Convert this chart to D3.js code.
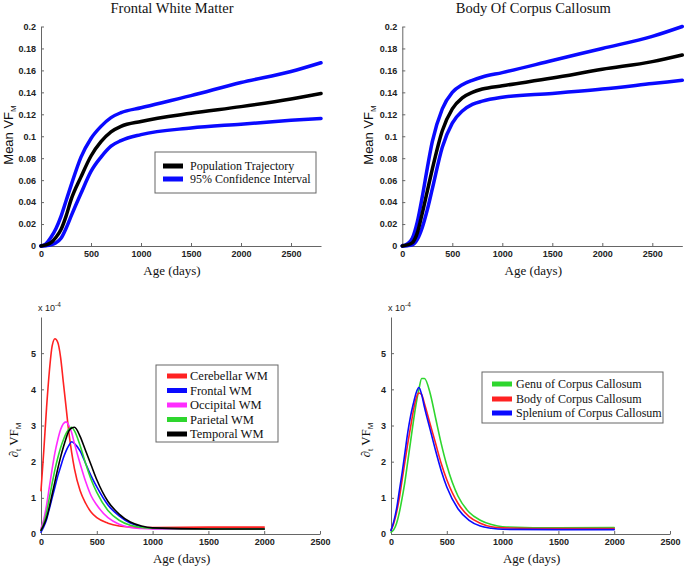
<!DOCTYPE html>
<html><head><meta charset="utf-8">
<script src="https://cdn.jsdelivr.net/npm/d3@7"></script>
<style>body{margin:0;background:#fff}svg{display:block}</style>
</head><body>
<svg id="c" width="685" height="569"></svg>
<script>
// ---------- DATA ----------
// Top panels: Mean VF_M trajectories (x = age in days)
const topAges = [0, 50, 100, 150, 200, 250, 300, 400, 500, 600, 700, 800, 1000, 1500, 2000, 2500, 2800];
const frontalMean  = [0, 0.001, 0.003, 0.008, 0.015, 0.027, 0.042, 0.063, 0.082, 0.095, 0.104, 0.109, 0.1135, 0.121, 0.127, 0.134, 0.139];
const frontalUpper = [0, 0.002, 0.008, 0.016, 0.027, 0.041, 0.055, 0.081, 0.098, 0.109, 0.117, 0.1215, 0.126, 0.137, 0.149, 0.159, 0.167];
const frontalLower = [0, 0.0003, 0.001, 0.003, 0.007, 0.016, 0.027, 0.048, 0.068, 0.081, 0.091, 0.096, 0.1015, 0.1075, 0.111, 0.1145, 0.1162];
const bodyMean  = [0, 0.001, 0.003, 0.012, 0.03, 0.05, 0.07, 0.105, 0.125, 0.135, 0.140, 0.143, 0.146, 0.153, 0.161, 0.168, 0.174];
const bodyUpper = [0, 0.002, 0.007, 0.022, 0.045, 0.071, 0.095, 0.125, 0.14, 0.147, 0.151, 0.154, 0.158, 0.169, 0.18, 0.191, 0.2];
const bodyLower = [0, 0.0003, 0.001, 0.006, 0.017, 0.033, 0.052, 0.09, 0.112, 0.123, 0.129, 0.132, 0.1355, 0.139, 0.143, 0.148, 0.151];

// Bottom panels: rate of change (x10^-4)
const rateAges = [0, 25, 50, 75, 100, 125, 150, 175, 200, 225, 250, 275, 300, 350, 400, 450, 500, 600, 700, 800, 900, 1000, 1500, 2000];
const cerebellarWM = [1.2, 2.3, 3.5, 4.5, 5.2, 5.4, 5.3, 4.9, 4.2, 3.5, 2.8, 2.25, 1.8, 1.2, 0.85, 0.6, 0.45, 0.3, 0.22, 0.19, 0.18, 0.18, 0.19, 0.19];
const frontalWM    = [0.05, 0.2, 0.4, 0.7, 1.0, 1.3, 1.6, 1.85, 2.1, 2.3, 2.45, 2.55, 2.5, 2.3, 1.95, 1.6, 1.3, 0.8, 0.5, 0.3, 0.2, 0.15, 0.13, 0.13];
const occipitalWM  = [0.15, 0.4, 0.8, 1.3, 1.8, 2.25, 2.6, 2.88, 3.05, 3.1, 3.0, 2.8, 2.5, 1.95, 1.45, 1.05, 0.8, 0.45, 0.27, 0.18, 0.15, 0.14, 0.14, 0.14];
const parietalWM   = [0.1, 0.3, 0.6, 1.0, 1.4, 1.78, 2.1, 2.38, 2.6, 2.78, 2.9, 2.95, 2.85, 2.45, 1.95, 1.5, 1.15, 0.65, 0.38, 0.24, 0.18, 0.16, 0.14, 0.14];
const temporalWM   = [0.1, 0.25, 0.45, 0.75, 1.1, 1.45, 1.8, 2.12, 2.4, 2.65, 2.85, 2.93, 2.95, 2.7, 2.3, 1.9, 1.5, 0.9, 0.55, 0.33, 0.22, 0.17, 0.14, 0.14];
const genuCC     = [0.05, 0.12, 0.3, 0.6, 1.0, 1.45, 2.0, 2.55, 3.1, 3.6, 4.0, 4.3, 4.3, 3.9, 3.2, 2.5, 1.9, 1.05, 0.6, 0.38, 0.26, 0.2, 0.17, 0.18];
const bodyCC     = [0.1, 0.3, 0.6, 1.0, 1.5, 2.0, 2.5, 2.95, 3.4, 3.75, 3.9, 3.85, 3.6, 3.05, 2.5, 1.95, 1.5, 0.85, 0.48, 0.3, 0.2, 0.17, 0.15, 0.15];
const spleniumCC = [0.1, 0.35, 0.7, 1.2, 1.7, 2.25, 2.8, 3.25, 3.6, 3.9, 4.05, 3.85, 3.5, 2.9, 2.3, 1.75, 1.3, 0.7, 0.38, 0.22, 0.16, 0.13, 0.12, 0.12];

const topTitles = ["Frontal White Matter", "Body Of Corpus Callosum"];
const topLegend = ["Population Trajectory", "95% Confidence Interval"];
const wmLegend = ["Cerebellar WM", "Frontal WM", "Occipital WM", "Parietal WM", "Temporal WM"];
const ccLegend = ["Genu of Corpus Callosum", "Body of Corpus Callosum", "Splenium of Corpus Callosum"];
const topXTicks = [0, 500, 1000, 1500, 2000, 2500];
const topYTicks = [0, 0.02, 0.04, 0.06, 0.08, 0.1, 0.12, 0.14, 0.16, 0.18, 0.2];
const botXTicks = [0, 500, 1000, 1500, 2000, 2500];
const botYTicks = [0, 1, 2, 3, 4, 5];

// ---------- DRAW ----------
const svg = d3.select("#c");
const BLUE = "#0a0aff", BLACK = "#000", RED = "#ff2222", MAG = "#ff2cff", GREEN = "#2ed62e";
const serif = "'Liberation Serif','Times New Roman',serif";
const sans = "'Liberation Sans',Arial,sans-serif";

function axes(g, x, y, xt, yt, yfmt) {
  const ax = g.append("g").attr("transform", `translate(0,${y.range()[0]})`)
    .call(d3.axisBottom(x).tickValues(xt).tickSizeInner(-3).tickSizeOuter(0).tickPadding(5).tickFormat(d3.format("d")));
  const ay = g.append("g").attr("transform", `translate(${x.range()[0]},0)`)
    .call(d3.axisLeft(y).tickValues(yt).tickSizeInner(-3).tickSizeOuter(0).tickPadding(5).tickFormat(yfmt));
  [ax, ay].forEach(a => {
    a.select(".domain").attr("stroke", "#666");
    a.selectAll(".tick line").attr("stroke", "#666");
    a.selectAll("text").attr("fill", "#222").style("font-family", sans).style("font-size", "9px").style("font-weight", "bold");
  });
}

function line(g, x, y, xs, ys, color, w) {
  const gen = d3.line().x((d, i) => x(xs[i])).y(d => y(d)).curve(d3.curveMonotoneX);
  g.append("path").attr("d", gen(ys)).attr("fill", "none").attr("stroke", color)
    .attr("stroke-width", w).attr("stroke-linejoin", "round").attr("stroke-linecap", "round");
}

function ylabelVF(g, xpos, ycenter, prefix) {
  const t = g.append("text").attr("transform", `translate(${xpos},${ycenter}) rotate(-90)`)
    .attr("text-anchor", "middle").style("font-family", prefix ? serif : sans).style("font-size", "13px").attr("fill", "#111");
  if (prefix) {
    t.append("tspan").text("\u2202").style("font-family", serif);
    t.append("tspan").text("t").attr("dy", 3).style("font-size", "8px");
    t.append("tspan").text(" VF").attr("dy", -3).style("font-family", serif);
  } else {
    t.append("tspan").text("Mean VF").style("font-family", sans);
  }
  t.append("tspan").text("M").attr("dy", 3).style("font-size", "8px").style("font-family", sans);
}

function legend(g, x0, y0, w, h, items, colors, rowY, swX, txX, fs) {
  g.append("rect").attr("x", x0).attr("y", y0).attr("width", w).attr("height", h)
    .attr("fill", "#fff").attr("stroke", "#666").attr("stroke-width", 1);
  items.forEach((it, i) => {
    const yy = y0 + rowY[i];
    g.append("rect").attr("x", x0 + swX).attr("y", yy - 2.5).attr("width", 20).attr("height", 5).attr("fill", colors[i]);
    g.append("text").attr("x", x0 + txX).attr("y", yy + 4).text(it)
      .style("font-family", serif).style("font-size", fs + "px").attr("fill", "#111");
  });
}

// Top panels
const topCfg = [
  {x0: 41, title: topTitles[0], m: frontalMean, u: frontalUpper, l: frontalLower, lab: 9},
  {x0: 402.3, title: topTitles[1], m: bodyMean, u: bodyUpper, l: bodyLower, lab: 369}
];
topCfg.forEach((c, k) => {
  const g = svg.append("g");
  const x = d3.scaleLinear().domain([0, 2800]).range([c.x0, c.x0 + 280]);
  const y = d3.scaleLinear().domain([0, 0.2]).range([246, 26.5]);
  axes(g, x, y, topXTicks, topYTicks, d => String(+d.toFixed(2)));
  line(g, x, y, topAges, c.u, BLUE, 3.5);
  line(g, x, y, topAges, c.l, BLUE, 3.5);
  line(g, x, y, topAges, c.m, BLACK, 3.5);
  g.append("text").attr("x", x(1310)).attr("y", 13).attr("text-anchor", "middle").text(c.title)
    .style("font-family", serif).style("font-size", "14.5px").attr("fill", "#111");
  g.append("text").attr("x", x(1310)).attr("y", 275).attr("text-anchor", "middle").text("Age (days)")
    .style("font-family", serif).style("font-size", "13px").attr("fill", "#111");
  ylabelVF(g, c.lab + 4, 135, false);
  if (k === 0) legend(g, 155, 152, 161, 41, topLegend, [BLACK, BLUE], [14, 27], 8, 35, 12);
});

// Bottom panels
const botCfg = [
  {x0: 41, series: [cerebellarWM, frontalWM, occipitalWM, parietalWM, temporalWM], colors: [RED, BLUE, MAG, GREEN, BLACK], lab: 18,
   leg: [156, 365, 122, 77, wmLegend, [RED, BLUE, MAG, GREEN, BLACK], [11, 25.5, 40, 54.5, 69], 11, 34, 12.5]},
  {x0: 391, series: [genuCC, bodyCC, spleniumCC], colors: [GREEN, RED, BLUE], lab: 370,
   leg: [482, 372, 181, 51, ccLegend, [GREEN, RED, BLUE], [12, 27, 41], 10, 34, 12]}
];
botCfg.forEach(c => {
  const g = svg.append("g");
  const x = d3.scaleLinear().domain([0, 2500]).range([c.x0, c.x0 + 279]);
  const y = d3.scaleLinear().domain([0, 6]).range([534, 317]);
  axes(g, x, y, botXTicks, botYTicks, d3.format("d"));
  c.series.forEach((s, i) => line(g, x, y, rateAges, s, c.colors[i], 1.6));
  const m = g.append("text").attr("x", c.x0 - 3).attr("y", 311).style("font-family", sans).style("font-size", "9px").attr("fill", "#222");
  m.append("tspan").text("x 10");
  m.append("tspan").text("-4").attr("dy", -4).style("font-size", "6.5px");
  g.append("text").attr("x", x(1260)).attr("y", 563).attr("text-anchor", "middle").text("Age (days)")
    .style("font-family", serif).style("font-size", "13px").attr("fill", "#111");
  ylabelVF(g, c.lab, 440, true);
  legend(g, ...c.leg);
});
</script>
</body></html>
